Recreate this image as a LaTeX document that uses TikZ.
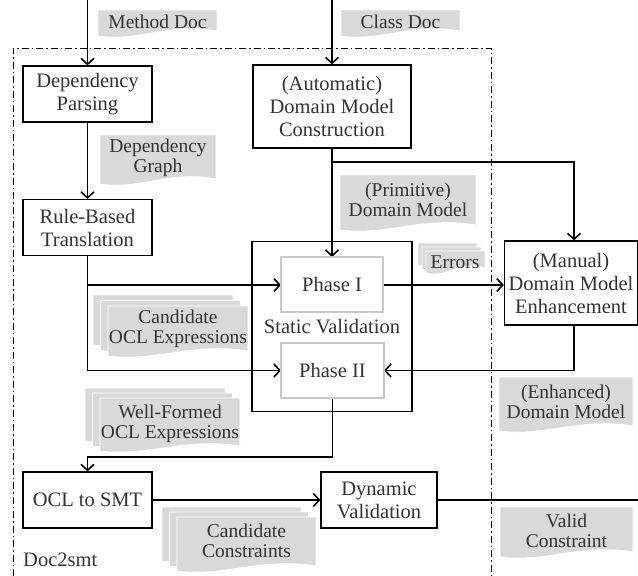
\documentclass[tikz,border=0pt]{standalone}
\usepackage{fontspec}
\setmainfont{Liberation Serif}
\usetikzlibrary{arrows.meta}
\definecolor{docgray}{HTML}{D9D9D9}
\definecolor{txt}{HTML}{333333}
\definecolor{phgray}{HTML}{C8C8C8}
\newcommand{\bxfont}{\fontsize{20.5}{23}\selectfont}
\newcommand{\dcfont}{\fontsize{19.5}{20.5}\selectfont}
% document shape: x0 y0 x1 y1
\newcommand{\gdoc}[4]{\filldraw[docgray, draw=white, line width=0.8pt] (#1,#2) -- (#3,#2) -- (#3,#4-7) .. controls ({#1+0.6*(#3-#1)},#4-16) and ({#1+0.35*(#3-#1)},#4+4) .. (#1,#4-2) -- cycle;}
% stacked documents: front x0 y0 x1 y1, offsets dx dy
\newcommand{\gstack}[6]{%
  \gdoc{#1-2*#5}{#2-2*#6}{#3-2*#5}{#4-2*#6}
  \gdoc{#1-#5}{#2-#6}{#3-#5}{#4-#6}
  \gdoc{#1}{#2}{#3}{#4}}
\begin{document}
\begin{tikzpicture}[x=1pt,y=-1pt,
  conn/.style={line width=1.8pt, -{Straight Barb[length=6pt,width=13pt,line width=1.6pt]}},
  plain/.style={line width=1.8pt},
  box/.style={draw, line width=1.2pt, fill=white, align=center, text=txt, font=\bxfont, inner sep=0pt},
  phase/.style={draw=phgray, line width=1.2pt, fill=white, align=center, text=txt, font=\bxfont, inner sep=0pt},
  doctext/.style={align=center, text=txt, font=\dcfont, inner sep=0pt},
  border/.style={line width=1pt, dash pattern=on 7pt off 3pt on 1.5pt off 3pt}
]
\useasboundingbox (0,0) rectangle (638,576);

% boundary
\draw[border] (13,576) -- (13,48) -- (491,48) -- (491,576);

% document labels
\gdoc{98}{10}{217}{38}
\node[doctext] (mdoc) at (157.5,22) {Method Doc};
\gdoc{341}{10}{460}{38}
\node[doctext] (cdoc) at (400.5,22) {Class Doc};
\gdoc{100}{135}{216}{186}
\node[doctext] (dgraph) at (158,158) {Dependency\\Graph};
\gdoc{340}{175}{476}{232}
\node[doctext] (prim) at (408,200) {(Primitive)\\Domain Model};
\gstack{108}{306}{248}{358}{7.5}{5.5}
\node[doctext] (cocl) at (178,329) {Candidate\\OCL Expressions};
\gstack{426}{251}{485}{275}{4}{4}
\node[doctext] (err) at (455,262) {Errors};
\gstack{100}{398}{240}{453}{7.5}{5}
\node[doctext] (wocl) at (170,424) {Well-Formed\\OCL Expressions};
\gstack{177}{517}{316}{573}{7.5}{5}
\node[doctext] (ccons) at (246.5,541) {Candidate\\Constraints};
\gdoc{499}{377}{633}{433}
\node[doctext] (enh) at (566,402) {(Enhanced)\\Domain Model};
\gdoc{500}{507}{633}{559}
\node[doctext] (valid) at (566.5,531) {Valid\\Constraint};

% process boxes
\node[box, minimum width=129pt, minimum height=56pt] (dp) at (87.5,94) {Dependency\\Parsing};
\node[box, minimum width=129pt, minimum height=56pt] (rbt) at (87.5,227.5) {Rule-Based\\Translation};
\node[box, minimum width=158pt, minimum height=83pt] (admc) at (332,106.5) {(Automatic)\\Domain Model\\Construction};
\node[draw, line width=1.2pt, minimum width=160pt, minimum height=170pt, inner sep=0pt] (sv) at (332,326.5) {};
\node[doctext, font=\bxfont] (svt) at (332,327) {Static Validation};
\node[box, minimum width=133pt, minimum height=84pt] (man) at (571,283) {(Manual)\\Domain Model\\Enhancement};
\node[box, minimum width=129pt, minimum height=56pt] (ocl) at (87.5,500) {OCL to SMT};
\node[box, minimum width=116pt, minimum height=56pt] (dyn) at (379,500) {Dynamic\\Validation};

% helper coordinates
\coordinate (mdin) at (87.5,0);
\coordinate (cdin) at (332,0);
\coordinate (split) at (332,162);
\coordinate (rbtsplit) at (87.5,285);
\coordinate (drop) at (332.5,457);
\coordinate (out) at (638,500);

% connectors
\draw[conn] (mdin) -- (dp.north);
\draw[conn] (dp.south) -- (rbt.north);
\draw[conn] (cdin) -- (admc.north);
\draw[conn] (admc.south) -- (332,257);
\draw[conn] (split) -| ([xshift=3pt]man.north);
\draw[conn] (rbt.south) |- (281,285);
\draw[conn] (rbtsplit) |- (281,370.5);
\draw[conn] (383,285) -- (man.west |- 0,285);
\draw[conn] ([xshift=3pt]man.south) |- (384,370.5);
\draw[conn] (332.5,398) -- (drop) -| (ocl.north);
\draw[conn] (ocl) -- (dyn);
\draw[plain] (dyn.east) -- (out);

% phase boxes on top
\node[phase, minimum width=102pt, minimum height=55pt] (p1) at (332,284.5) {Phase I};
\node[phase, minimum width=103pt, minimum height=55pt] (p2) at (332.5,370.5) {Phase II};

% label
\node[text=txt, font=\bxfont, anchor=west, inner sep=0pt] (d2s) at (23,560) {Doc2smt};
\end{tikzpicture}
\end{document}
